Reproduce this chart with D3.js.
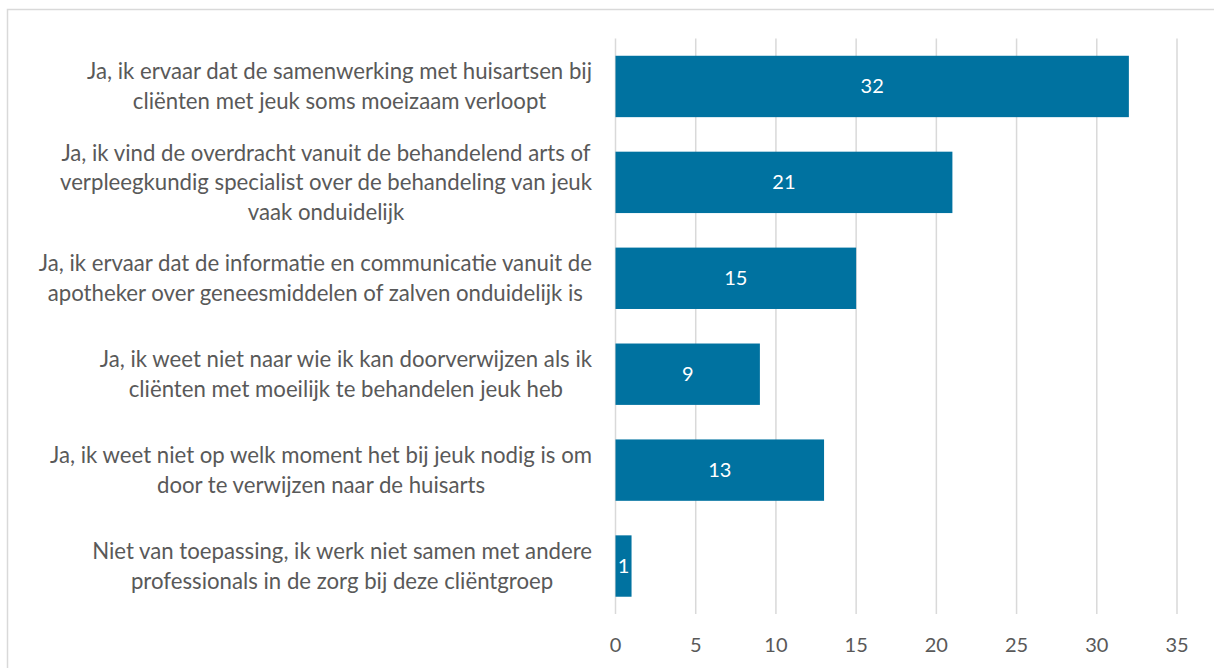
<!DOCTYPE html>
<html>
<head>
<meta charset="utf-8">
<title>Samenwerking jeuk</title>
<script src="https://d3js.org/d3.v7.min.js"></script>
<style>
  body { margin: 0; background: #fff; }
  svg { display: block; font-family: Lato, "Open Sans", sans-serif; }
  .grid line { stroke: #d9d9d9; stroke-width: 1.5px; }
  .cat { fill: #595959; font-size: 22.2px; }
  .tick-label { fill: #595959; font-size: 20px; }
  .val { fill: #fff; font-size: 20px; }
</style>
</head>
<body>
<div id="chart"></div>
<script>
// categories, one array of lines per bar (top to bottom)
var categories = [
  ["Ja, ik ervaar dat de samenwerking met huisartsen bij", "cliënten met jeuk soms moeizaam verloopt"],
  ["Ja, ik vind de overdracht vanuit de behandelend arts of", "verpleegkundig specialist over de behandeling van jeuk", "vaak onduidelijk"],
  ["Ja, ik ervaar dat de informatie en communicatie vanuit de", "apotheker over geneesmiddelen of zalven onduidelijk is"],
  ["Ja, ik weet niet naar wie ik kan doorverwijzen als ik", "cliënten met moeilijk te behandelen jeuk heb"],
  ["Ja, ik weet niet op welk moment het bij jeuk nodig is om", "door te verwijzen naar de huisarts"],
  ["Niet van toepassing, ik werk niet samen met andere", "professionals in de zorg bij deze cliëntgroep"]
];
var values = [32, 21, 15, 9, 13, 1];
var xTicks = [0, 5, 10, 15, 20, 25, 30, 35];

var W = 1214, H = 668;
var plot = {left: 615.5, right: 1177, top: 38.5, bottom: 614};

var svg = d3.select("#chart").append("svg")
    .attr("width", W)
    .attr("height", H);

// outer frame (cut off at right and bottom like the original)
svg.append("path")
    .attr("d", "M7.5," + H + "V9.5H" + W)
    .attr("fill", "none")
    .attr("stroke", "#d9d9d9")
    .attr("stroke-width", 1.5);

var x = d3.scaleLinear().domain([0, 35]).range([plot.left, plot.right]);
var y = d3.scaleBand()
    .domain(d3.range(categories.length))
    .range([plot.top, plot.bottom])
    .paddingInner(0.36)
    .paddingOuter(0.18);

// vertical gridlines
svg.append("g").attr("class", "grid")
  .selectAll("line").data(xTicks).join("line")
    .attr("x1", d => x(d)).attr("x2", d => x(d))
    .attr("y1", plot.top).attr("y2", plot.bottom);

// tick labels
svg.append("g").selectAll("text").data(xTicks).join("text")
    .attr("class", "tick-label")
    .attr("x", d => x(d))
    .attr("y", 652)
    .attr("text-anchor", "middle")
    .text(d => d);

// bars
svg.append("g").selectAll("rect").data(values).join("rect")
    .attr("x", x(0))
    .attr("y", (d, i) => y(i))
    .attr("width", d => x(d) - x(0))
    .attr("height", y.bandwidth())
    .attr("fill", "#0072a0");

// value labels
svg.append("g").selectAll("text").data(values).join("text")
    .attr("class", "val")
    .attr("x", d => (x(0) + x(d)) / 2)
    .attr("y", (d, i) => y(i) + y.bandwidth() / 2)
    .attr("dy", "0.35em")
    .attr("text-anchor", "middle")
    .text(d => d);

// category labels: lines centred on each other, block right-aligned
var lineH = 29.5;
var labels = svg.append("g").selectAll("g").data(categories).join("g");
labels.each(function(lines, i) {
  var g = d3.select(this);
  var t = g.selectAll("text").data(lines).join("text")
      .attr("class", "cat")
      .attr("text-anchor", "middle")
      .text(d => d);
  var maxW = d3.max(t.nodes(), n => n.getComputedTextLength());
  var cx = 592 - maxW / 2;
  var cy = y(i) + y.bandwidth() / 2;
  var y0 = cy - (lines.length - 1) * lineH / 2;
  t.attr("x", cx)
   .attr("y", (d, j) => y0 + j * lineH)
   .attr("dy", "0.35em");
});
</script>
</body>
</html>
